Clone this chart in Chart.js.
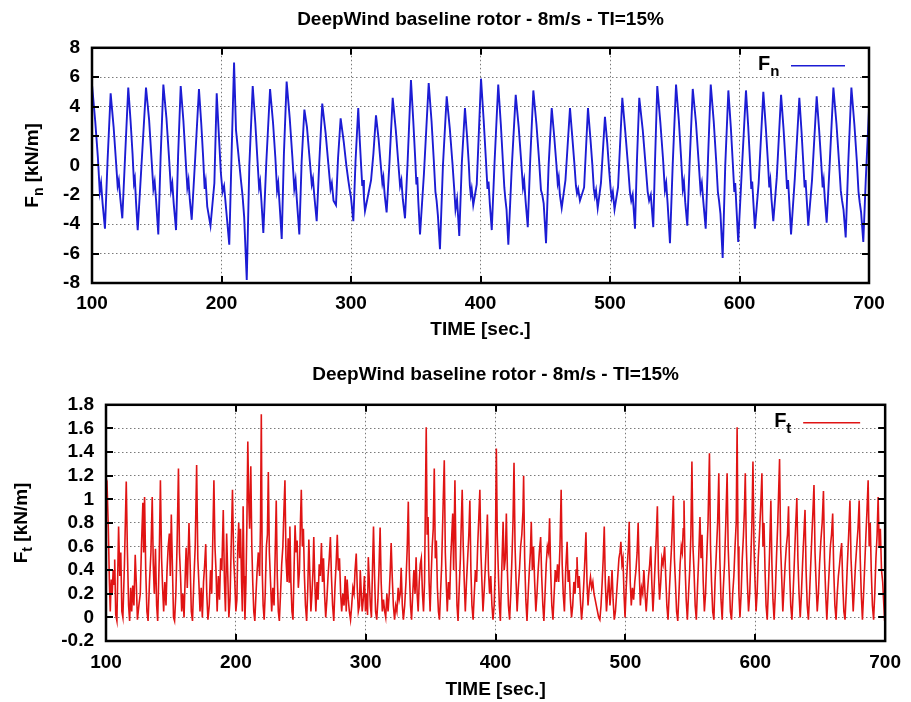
<!DOCTYPE html>
<html>
<head>
<meta charset="utf-8">
<title>DeepWind baseline rotor</title>
<script src="https://cdn.jsdelivr.net/npm/chart.js@4.4.1/dist/chart.umd.min.js"></script>
<style>
    html, body { margin: 0; padding: 0; background: #fff; }
    canvas { display: block; }
</style>
</head>
<body>
<canvas id="fnChart" width="911" height="351"></canvas>
<canvas id="ftChart" width="911" height="351"></canvas>
<script>
(function () {
    "use strict";

    const chartTitle = "DeepWind baseline rotor - 8m/s - TI=15%";
    const timeTicks = [100, 200, 300, 400, 500, 600, 700];
    const fnTicks = [-8, -6, -4, -2, 0, 2, 4, 6, 8];
    const ftTicks = [-0.2, 0, 0.2, 0.4, 0.6, 0.8, 1, 1.2, 1.4, 1.6, 1.8];

    // Fn [kN/m] vs time: [time, value]
    const fnPoints = [
        [100.0, 5.5], [102.5, 3.0], [104.5, 0.6], [106.0, -1.8], [107.0, -1.2], [108.2, -2.6], [110.0, -4.3], [112.0, 0.3],
        [114.4, 4.9], [116.7, 2.6], [118.5, 0.3], [119.8, -1.4], [120.7, -1.0], [121.8, -2.2], [123.4, -3.6], [125.5, 0.5],
        [128.0, 5.3], [129.8, 3.0], [131.3, 0.8], [132.4, -1.2], [133.1, -0.9], [134.0, -2.5], [135.3, -4.4], [138.2, 0.0],
        [141.7, 5.3], [144.1, 3.1], [146.0, 0.4], [147.4, -1.6], [148.4, -1.1], [149.5, -2.4], [151.2, -4.7], [153.0, 0.6],
        [155.1, 5.5], [157.5, 3.2], [159.5, 0.5], [161.0, -1.7], [162.0, -1.2], [163.1, -2.6], [164.9, -4.4], [166.5, 0.7],
        [168.5, 5.4], [170.6, 3.0], [172.3, 0.4], [173.6, -1.5], [174.5, -1.0], [175.5, -2.3], [177.0, -3.7], [179.5, 0.2],
        [182.6, 5.2], [184.4, 2.8], [185.8, 0.6], [187.0, -1.6], [187.8, -1.1], [189.0, -2.8], [191.5, -4.1], [194.5, -1.2],
        [196.3, 4.9], [198.0, 2.0], [199.5, -0.5], [200.8, -1.8], [202.0, -1.4], [203.6, -3.0], [206.0, -5.4], [207.8, 0.8],
        [209.7, 7.0], [211.2, 2.4], [213.0, 0.8], [215.0, -1.0], [216.2, -2.0], [217.5, -3.5], [219.5, -7.8], [221.5, 0.0],
        [224.1, 5.4], [226.1, 2.9], [227.8, 0.3], [229.0, -1.5], [229.8, -1.1], [230.8, -2.4], [232.3, -4.6], [234.6, 0.2],
        [237.5, 5.2], [239.8, 2.9], [241.6, 0.5], [242.9, -1.7], [243.8, -1.2], [244.9, -2.7], [246.5, -5.0], [248.2, 0.8],
        [250.3, 5.7], [252.7, 3.2], [254.7, 0.6], [256.2, -1.6], [257.2, -1.0], [258.3, -2.5], [260.1, -4.7], [261.9, 0.3],
        [264.0, 3.8], [266.0, 2.6], [268.0, 0.5], [269.7, -1.3], [270.6, -0.9], [271.8, -2.2], [273.5, -3.8], [275.5, 0.2],
        [277.8, 4.2], [280.4, 2.2], [282.6, 0.0], [284.2, -1.6], [285.2, -1.2], [286.5, -2.4], [288.4, -2.7], [290.0, 0.5],
        [292.0, 3.2], [294.4, 1.6], [296.4, 0.0], [297.9, -1.0], [298.9, -1.6], [300.0, -2.2], [301.8, -3.8], [303.5, 0.3],
        [305.6, 3.9], [306.6, 2.0], [307.8, 0.0], [308.7, -1.4], [309.3, -1.0], [310.0, -2.2], [310.8, -3.1], [315.5, -1.0], [317.3, 0.8],
        [319.3, 3.4], [321.3, 1.8], [323.0, 0.0], [324.2, -1.2], [325.0, -0.8], [326.0, -2.0], [327.5, -3.2], [329.6, 0.0],
        [332.2, 4.6], [334.6, 2.4], [336.5, 0.2], [337.9, -1.4], [338.9, -1.0], [340.0, -2.3], [341.7, -3.6], [343.8, 0.4],
        [346.3, 5.8], [348.1, 3.0], [349.5, 0.6], [350.5, -1.3], [351.2, -0.8], [352.0, -2.5], [353.3, -4.7], [356.3, -0.6],
        [360.0, 5.6], [362.2, 3.0], [363.9, 0.4], [365.2, -1.8], [366.1, -2.4], [367.1, -3.4], [368.7, -5.7], [371.0, 0.0],
        [373.9, 4.7], [376.3, 2.5], [378.3, 0.2], [379.7, -1.6], [380.7, -3.0], [381.9, -2.3], [383.6, -4.8], [385.6, 0.2],
        [388.0, 3.9], [389.6, 2.0], [390.9, 0.2], [391.8, -1.4], [392.5, -2.0], [393.2, -1.6], [394.4, -2.7], [397.1, -1.3],
        [400.4, 5.9], [402.5, 3.0], [404.1, 0.5], [405.4, -1.6], [406.2, -1.1], [407.2, -2.6], [408.7, -4.4], [410.9, 0.3],
        [413.7, 5.5], [415.7, 2.8], [417.2, 0.4], [418.4, -1.5], [419.2, -2.3], [420.1, -3.0], [421.5, -5.4], [424.1, -0.2],
        [427.2, 4.8], [429.5, 2.6], [431.4, 0.3], [432.8, -1.5], [433.7, -1.0], [434.8, -2.4], [436.5, -4.2], [438.4, 0.4],
        [440.8, 5.1], [443.2, 2.8], [445.2, 0.4], [446.7, -1.7], [447.7, -2.0], [448.8, -2.6], [450.6, -5.3], [452.6, 0.0],
        [455.0, 3.9], [456.9, 2.0], [458.5, 0.2], [459.6, -1.2], [460.4, -0.8], [461.3, -2.0], [462.7, -2.9], [465.6, -1.0],
        [469.1, 3.9], [471.0, 1.8], [472.6, 0.0], [473.7, -1.4], [474.5, -1.9], [475.4, -1.6], [476.8, -2.4], [480.0, -1.5],
        [483.0, 3.9], [484.9, 1.8], [486.4, 0.0], [487.5, -1.6], [488.3, -2.1], [489.2, -1.7], [490.5, -2.9], [493.0, -1.2],
        [496.1, 3.3], [497.9, 1.5], [499.4, -0.4], [500.5, -1.6], [501.3, -2.2], [502.2, -1.8], [503.5, -3.0], [506.2, -1.5],
        [509.5, 4.6], [511.9, 2.2], [513.9, 0.0], [515.4, -1.8], [516.4, -2.4], [517.5, -2.0], [519.3, -4.3], [520.8, 0.3],
        [522.6, 4.6], [525.3, 2.4], [527.5, 0.0], [529.1, -1.8], [530.2, -2.4], [531.5, -2.0], [533.4, -4.2], [534.8, 0.4],
        [536.5, 5.4], [538.9, 2.9], [540.9, 0.5], [542.4, -1.7], [543.4, -1.2], [544.5, -2.6], [546.3, -5.3], [548.4, 0.0],
        [551.0, 5.5], [553.2, 3.0], [554.9, 0.5], [556.2, -1.6], [557.1, -1.1], [558.1, -2.5], [559.7, -4.1], [561.6, 0.4],
        [563.9, 5.2], [566.4, 2.9], [568.4, 0.3], [569.9, -1.7], [570.9, -1.2], [572.1, -2.5], [573.9, -4.3], [575.7, 0.5],
        [577.8, 5.5], [580.1, 3.0], [582.0, 0.3], [583.3, -1.8], [584.2, -2.4], [585.3, -3.3], [587.0, -6.3], [589.0, 0.0],
        [591.4, 5.1], [593.3, 2.6], [594.8, 0.2], [596.0, -1.8], [596.7, -1.2], [597.6, -2.8], [599.0, -5.2], [601.7, -0.5],
        [605.0, 5.1], [606.7, 2.7], [608.1, 0.3], [609.1, -1.6], [609.8, -1.1], [610.7, -2.5], [611.9, -4.3], [614.8, -1.2],
        [618.4, 5.0], [620.3, 2.6], [621.9, 0.3], [623.0, -1.5], [623.8, -1.0], [624.7, -2.3], [626.1, -3.8], [628.8, -0.8],
        [632.1, 4.8], [634.0, 2.5], [635.6, 0.2], [636.7, -1.6], [637.5, -1.0], [638.4, -2.4], [639.8, -4.7], [642.7, -0.9],
        [646.2, 4.6], [647.9, 2.3], [649.3, 0.1], [650.3, -1.5], [651.0, -1.0], [651.9, -2.3], [653.1, -4.1], [656.0, -1.0],
        [659.6, 4.7], [661.5, 2.4], [663.1, 0.2], [664.2, -1.5], [665.0, -1.0], [665.9, -2.3], [667.3, -3.9], [669.6, 0.0],
        [672.5, 5.3], [674.9, 2.8], [676.8, 0.3], [678.2, -1.7], [679.2, -2.4], [680.3, -3.0], [682.0, -4.9], [684.0, 0.2],
        [686.4, 5.3], [688.7, 2.8], [690.6, 0.3], [691.9, -1.8], [692.8, -2.5], [693.9, -3.2], [695.6, -5.2], [697.5, -1.0], [700.0, 3.8],
    ];

    // Ft [kN/m] vs time: [time, value]
    const ftPoints = [
        [100.0, 1.10], [100.8, 1.13], [101.8, 0.75], [102.6, 0.30], [103.3, 0.05], [104.0, 0.32], [104.8, 0.20], [105.5, 0.40], [106.3, 0.28], [106.7, 0.49],
        [107.5, 0.02], [108.4, -0.03], [109.7, 0.77], [110.6, 0.35], [111.4, 0.55], [112.2, 0.05], [113.0, 0.00], [114.2, 0.45], [115.6, 1.15], [116.5, 0.55],
        [117.4, 0.10], [118.2, -0.03], [119.0, 0.25], [119.8, 0.05], [120.6, 0.27], [121.5, 0.10], [122.5, 0.53], [123.3, 0.30], [124.2, -0.02], [125.3, 0.10],
        [126.4, 0.20], [127.3, 0.60], [128.4, 0.97], [129.0, 0.55], [129.7, 1.02], [130.6, 0.40], [131.5, 0.05], [132.4, -0.03], [133.5, 0.30], [134.6, 0.55],
        [135.6, 1.02], [136.4, 0.45], [137.2, 0.20], [138.1, 0.58], [139.0, 0.10], [139.8, -0.03], [141.0, 0.50], [141.9, 1.16], [142.8, 0.50], [143.6, 0.25],
        [144.4, 0.05], [145.3, 0.30], [146.2, 0.10], [147.0, 0.40], [147.9, 0.60], [148.8, 0.71], [149.5, 0.35], [150.3, 0.87], [151.2, 0.40], [152.0, 0.00],
        [152.8, -0.03], [153.8, 0.20], [154.8, 0.65], [155.8, 1.26], [156.6, 0.55], [157.4, 0.35], [158.3, 0.05], [159.2, 0.20], [160.1, 0.00], [161.0, 0.35],
        [161.7, 0.59], [162.6, 0.25], [163.9, 0.80], [164.8, 0.45], [165.7, 0.05], [166.6, -0.03], [167.6, 0.30], [168.7, 0.60], [169.8, 1.29], [170.7, 0.50],
        [171.5, 0.30], [172.4, 0.05], [173.3, 0.25], [174.2, 0.00], [175.1, 0.30], [176.0, 0.45], [176.8, 0.62], [177.6, 0.20], [178.5, -0.02], [179.5, 0.10],
        [180.5, 0.40], [181.4, 0.20], [182.3, 0.70], [183.1, 1.16], [183.9, 0.60], [184.7, 0.40], [185.6, 0.05], [186.5, 0.35], [187.4, 0.15], [188.3, 0.50],
        [189.2, 0.40], [190.3, 0.91], [191.2, 0.30], [192.0, 0.05], [192.9, 0.71], [193.8, 0.35], [194.6, 0.00], [195.5, 0.15], [196.4, 0.60], [197.4, 1.08],
        [198.3, 0.50], [199.2, 0.30], [200.0, 0.05], [200.8, 0.15], [201.5, 0.60], [202.2, 0.80], [202.9, 0.50], [203.6, 0.75], [204.4, 0.30], [205.0, 0.05],
        [205.6, 0.94], [206.3, 0.35], [207.0, -0.02], [207.8, 0.30], [208.5, 0.80], [209.2, 1.49], [209.9, 1.00], [210.6, 0.75], [211.5, 1.28], [212.3, 0.60],
        [213.0, 0.30], [213.8, 0.05], [214.6, -0.03], [215.5, 0.20], [216.4, 0.40], [217.3, 0.55], [218.3, 0.35], [219.0, 0.80], [219.6, 1.72], [220.3, 0.40],
        [221.0, 0.10], [221.8, -0.02], [222.6, 0.20], [223.5, 0.60], [224.3, 0.70], [225.0, 1.23], [225.8, 0.55], [226.7, 0.30], [227.6, 0.05], [228.5, 0.25],
        [229.4, 0.10], [230.3, 0.55], [231.1, 0.99], [231.9, 0.35], [232.7, 0.05], [233.5, -0.03], [234.4, 0.20], [235.3, 0.45], [236.2, 0.60], [237.0, 0.90],
        [237.8, 1.16], [238.6, 0.50], [239.5, 0.30], [240.3, 0.67], [241.0, 0.30], [241.6, 0.77], [242.4, 0.30], [243.2, 0.05], [244.0, -0.02], [244.8, 0.40],
        [245.6, 0.78], [246.4, 0.55], [247.2, 0.65], [248.1, 0.25], [249.0, 0.40], [249.7, 0.80], [250.4, 1.08], [251.2, 0.60], [252.0, 0.75], [252.8, 0.35],
        [253.6, 0.10], [254.5, -0.03], [255.4, 0.25], [256.2, 0.66], [257.0, 0.35], [257.8, 0.05], [258.6, 0.20], [259.4, 0.40], [260.0, 0.68], [260.8, 0.30],
        [261.6, 0.05], [262.5, 0.30], [263.3, 0.15], [264.2, 0.45], [265.0, 0.35], [265.9, 0.63], [266.7, 0.30], [267.5, 0.50], [268.3, 0.20], [269.2, 0.00],
        [270.1, 0.15], [271.0, 0.35], [271.9, 0.50], [272.8, 0.68], [273.6, 0.35], [274.5, 0.10], [275.4, -0.03], [276.3, 0.25], [277.2, 0.45], [278.1, 0.70],
        [278.9, 0.40], [279.8, 0.50], [280.7, 0.20], [281.5, 0.05], [282.4, 0.20], [283.3, 0.10], [284.2, 0.35], [285.0, 0.05], [285.7, 0.32], [286.6, 0.15],
        [287.4, 0.05], [288.3, -0.02], [289.2, 0.10], [290.1, 0.25], [291.0, 0.20], [291.8, 0.40], [292.7, 0.54], [293.5, 0.25], [294.3, 0.05], [295.2, 0.10],
        [295.8, 0.40], [296.6, 0.20], [297.3, 0.05], [298.1, 0.15], [299.0, 0.35], [299.8, 0.05], [300.6, 0.20], [301.4, 0.02], [302.0, 0.51], [302.8, 0.30],
        [303.6, 0.10], [304.4, 0.00], [305.2, 0.40], [306.0, 0.77], [306.8, 0.35], [307.6, 0.05], [308.5, -0.02], [309.4, 0.15], [310.2, 0.40], [311.1, 0.76],
        [311.9, 0.30], [312.8, 0.05], [313.7, 0.15], [314.6, 0.05], [315.4, 0.00], [316.3, 0.20], [317.2, 0.05], [318.1, 0.20], [318.9, 0.40], [319.6, 0.63],
        [320.4, 0.35], [321.3, 0.10], [322.2, -0.02], [323.1, 0.10], [324.0, 0.05], [325.0, 0.25], [325.8, 0.15], [326.6, 0.20], [327.3, 0.42], [328.2, 0.10],
        [329.0, -0.02], [330.0, 0.10], [331.0, 0.30], [332.0, 0.60], [332.8, 0.98], [333.6, 0.40], [334.5, 0.10], [335.3, -0.02], [336.2, 0.20], [337.1, 0.40],
        [338.0, 0.20], [338.8, 0.51], [339.6, 0.20], [340.4, 0.05], [341.2, 0.30], [342.0, 0.45], [342.8, 0.50], [343.7, 0.20], [344.5, 0.05], [345.3, 0.30],
        [345.9, 0.90], [346.6, 1.61], [347.3, 0.70], [348.0, 0.85], [348.8, 0.30], [349.6, 0.05], [350.4, 0.35], [351.2, 0.60], [352.0, 0.75], [352.8, 1.26],
        [353.6, 0.50], [354.4, 0.65], [355.2, 0.25], [356.0, 0.05], [356.8, -0.02], [357.6, 0.20], [358.5, 0.45], [359.6, 0.95], [360.5, 1.33], [361.3, 0.55],
        [362.0, 0.30], [362.8, 0.05], [363.7, 0.30], [364.6, 0.15], [365.5, 0.50], [366.3, 0.70], [367.0, 0.88], [367.7, 0.40], [368.7, 1.16], [369.5, 0.50],
        [370.3, 0.10], [371.1, -0.03], [372.0, 0.25], [372.9, 0.50], [373.6, 0.80], [374.3, 1.08], [375.1, 0.60], [375.9, 0.30], [376.7, 0.05], [377.6, 0.30],
        [378.5, 0.50], [379.4, 0.70], [380.2, 0.99], [381.0, 0.40], [381.8, 0.10], [382.7, -0.02], [383.6, 0.20], [384.5, 0.40], [385.4, 0.30], [386.2, 0.60],
        [387.1, 0.85], [387.9, 1.08], [388.7, 0.55], [389.5, 0.30], [390.3, 0.05], [391.1, 0.20], [392.0, 0.40], [392.8, 0.60], [393.7, 0.87], [394.5, 0.40],
        [395.4, 0.20], [396.3, 0.35], [397.2, 0.10], [398.0, -0.02], [398.9, 0.10], [399.7, 0.40], [400.6, 1.43], [401.3, 0.70], [402.1, 0.40], [402.9, 0.10],
        [403.7, -0.03], [404.5, 0.30], [405.3, 0.60], [405.8, 0.81], [406.6, 0.40], [407.5, 0.50], [408.3, 0.88], [409.1, 0.40], [409.9, 0.10], [410.8, -0.02],
        [411.7, 0.20], [412.6, 0.50], [413.4, 0.80], [414.2, 1.31], [415.0, 0.60], [415.8, 0.30], [416.6, 0.05], [417.5, 0.25], [418.4, 0.40], [419.3, 0.60],
        [420.2, 0.70], [421.1, 0.90], [421.6, 1.20], [422.4, 0.50], [423.3, 0.15], [424.2, -0.03], [425.1, 0.20], [426.0, 0.40], [426.8, 0.55], [427.5, 0.81],
        [428.3, 0.40], [429.2, 0.60], [430.1, 0.30], [431.0, 0.05], [431.9, 0.20], [432.8, 0.40], [433.7, 0.55], [434.7, 0.68], [435.5, 0.35], [436.4, 0.10],
        [437.2, -0.03], [438.1, 0.20], [439.0, 0.45], [439.9, 0.60], [440.8, 0.55], [441.6, 0.84], [442.4, 0.40], [443.3, 0.10], [444.2, -0.02], [445.1, 0.20],
        [446.0, 0.40], [446.9, 0.30], [447.7, 0.45], [448.6, 0.30], [449.6, 0.60], [450.5, 1.08], [451.3, 0.45], [452.1, 0.20], [453.0, 0.05], [454.0, 0.40],
        [455.1, 0.64], [455.9, 0.30], [456.7, 0.40], [457.6, 0.15], [458.5, 0.00], [459.4, 0.10], [460.3, 0.30], [461.2, 0.20], [462.0, 0.40], [462.7, 0.51],
        [463.5, 0.25], [464.4, 0.35], [465.3, 0.15], [466.2, -0.02], [467.1, 0.10], [468.0, 0.30], [468.8, 0.50], [469.6, 0.72], [470.4, 0.30], [471.2, 0.10],
        [472.1, 0.25], [473.1, 0.34], [474.0, 0.25], [474.9, 0.30], [475.8, 0.20], [476.7, 0.15], [477.6, 0.10], [478.5, 0.05], [479.4, 0.00], [480.3, -0.02],
        [481.2, 0.10], [482.1, 0.30], [482.9, 0.50], [483.7, 0.77], [484.5, 0.30], [485.4, 0.05], [486.3, 0.20], [487.2, 0.35], [488.1, 0.10], [489.0, 0.25],
        [489.7, 0.40], [490.5, 0.15], [491.4, -0.02], [492.3, 0.05], [493.2, 0.20], [494.1, 0.35], [495.0, 0.50], [495.8, 0.55], [496.5, 0.64], [497.3, 0.45],
        [498.1, 0.50], [498.9, 0.20], [499.7, 0.00], [500.6, 0.25], [501.5, 0.45], [502.3, 0.60], [502.9, 0.81], [503.7, 0.30], [504.5, 0.10], [505.4, 0.25],
        [506.3, 0.15], [507.2, 0.30], [508.1, 0.40], [509.0, 0.55], [509.8, 0.80], [510.6, 0.40], [511.5, 0.10], [512.4, 0.25], [513.3, 0.20], [514.2, 0.40],
        [515.1, 0.20], [516.0, 0.05], [516.9, 0.20], [517.8, 0.35], [518.7, 0.45], [519.5, 0.60], [520.3, 0.30], [521.2, 0.05], [522.1, 0.25], [523.0, 0.50],
        [523.8, 0.70], [524.6, 0.94], [525.4, 0.40], [526.3, 0.15], [527.2, 0.30], [528.1, 0.50], [529.0, 0.45], [530.2, 0.60], [531.0, 0.35], [531.9, 0.10],
        [532.8, -0.02], [533.7, 0.20], [534.6, 0.40], [535.5, 0.60], [536.2, 0.80], [536.9, 1.03], [537.7, 0.50], [538.5, 0.30], [539.4, 0.05], [540.3, -0.03],
        [541.2, 0.20], [542.1, 0.45], [543.0, 0.60], [543.8, 0.55], [544.5, 0.75], [545.1, 0.99], [545.9, 0.45], [546.8, 0.15], [547.7, -0.02], [548.6, 0.20],
        [549.5, 0.40], [550.4, 0.70], [551.2, 1.32], [552.0, 0.60], [552.8, 0.40], [553.7, 0.10], [554.6, -0.02], [555.5, 0.25], [556.4, 0.50], [557.4, 0.85],
        [558.2, 0.50], [559.0, 0.70], [559.9, 0.30], [560.8, 0.05], [561.7, 0.20], [562.6, 0.50], [563.6, 0.80], [564.7, 1.39], [565.5, 0.60], [566.3, 0.30],
        [567.2, 0.05], [568.1, -0.02], [569.0, 0.30], [570.0, 0.55], [571.0, 0.80], [571.9, 1.22], [572.7, 0.50], [573.6, 0.15], [574.5, -0.02], [575.4, 0.25],
        [576.3, 0.45], [577.3, 0.80], [578.3, 1.22], [579.1, 0.60], [579.9, 0.35], [580.8, 0.05], [581.7, -0.02], [582.6, 0.20], [583.5, 0.35], [584.4, 0.60],
        [585.3, 0.80], [586.0, 1.61], [586.7, 0.60], [587.4, 0.20], [588.2, 0.00], [589.1, 0.20], [590.0, 0.50], [590.9, 0.70], [591.6, 0.90], [592.3, 1.22],
        [593.1, 0.60], [593.9, 0.30], [594.8, 0.05], [595.7, 0.20], [596.6, 0.50], [597.4, 0.80], [598.2, 1.32], [599.0, 0.60], [599.8, 0.30], [600.6, 0.05],
        [601.4, 0.20], [602.3, 0.50], [603.2, 0.70], [604.2, 0.95], [605.1, 1.22], [605.9, 0.60], [606.7, 0.80], [607.5, 0.40], [608.3, 0.10], [609.2, -0.02],
        [610.1, 0.25], [611.0, 0.55], [612.0, 0.99], [612.8, 0.45], [613.6, 0.15], [614.5, -0.02], [615.4, 0.20], [616.3, 0.50], [617.3, 0.80], [618.7, 1.34],
        [619.5, 0.60], [620.3, 0.35], [621.2, 0.05], [622.1, 0.25], [623.0, 0.45], [623.9, 0.60], [624.8, 0.70], [625.6, 0.94], [626.4, 0.40], [627.3, 0.10],
        [628.2, -0.02], [629.1, 0.20], [630.0, 0.45], [631.0, 0.75], [632.0, 1.01], [632.8, 0.50], [633.7, 0.20], [634.6, 0.00], [635.5, 0.20], [636.4, 0.45],
        [637.4, 0.70], [638.3, 0.91], [639.1, 0.40], [640.0, 0.10], [640.9, -0.02], [641.8, 0.20], [642.7, 0.45], [643.6, 0.70], [644.4, 0.90], [645.2, 1.12],
        [646.0, 0.55], [646.8, 0.30], [647.7, 0.05], [648.6, 0.20], [649.5, 0.45], [650.5, 0.65], [651.5, 0.80], [652.5, 1.07], [653.3, 0.50], [654.2, 0.20],
        [655.1, -0.02], [656.0, 0.20], [656.9, 0.40], [657.8, 0.60], [658.7, 0.70], [659.6, 0.88], [660.4, 0.40], [661.3, 0.10], [662.2, -0.02], [663.1, 0.20],
        [664.0, 0.35], [664.9, 0.45], [665.7, 0.55], [666.5, 0.63], [667.3, 0.30], [668.2, 0.05], [669.1, -0.02], [670.0, 0.20], [670.9, 0.45], [671.9, 0.70],
        [672.9, 0.99], [673.7, 0.50], [674.5, 0.30], [675.4, 0.05], [676.3, 0.25], [677.2, 0.45], [678.1, 0.60], [679.1, 0.75], [680.0, 0.99], [680.8, 0.50],
        [681.6, 0.20], [682.5, -0.02], [683.4, 0.20], [684.3, 0.45], [685.2, 0.70], [686.0, 0.90], [686.9, 1.16], [687.7, 0.60], [688.5, 0.80], [689.3, 0.40],
        [690.2, 0.10], [691.1, -0.02], [692.0, 0.20], [692.9, 0.50], [693.8, 0.70], [694.6, 1.02], [695.4, 0.60], [696.3, 0.75], [697.2, 0.40], [698.1, 0.30],
        [699.0, 0.10], [699.6, -0.03],
    ];

    const FONT = "'Liberation Sans', Arial, Helvetica, sans-serif";

    // frame, inside tick marks, gnuplot-style key and subscripted y label
    const gnuplotFrame = {
        id: "gnuplotFrame",
        afterDatasetsDraw(chart, args, opts) {
            const { ctx, chartArea: a, scales } = chart;
            const tick = 7;
            ctx.save();
            ctx.strokeStyle = "#000";
            ctx.lineWidth = 2;
            ctx.beginPath();
            scales.x.ticks.forEach((t) => {
                const px = Math.round(scales.x.getPixelForValue(t.value));
                ctx.moveTo(px, a.bottom);
                ctx.lineTo(px, a.bottom - tick);
                ctx.moveTo(px, a.top);
                ctx.lineTo(px, a.top + tick);
            });
            scales.y.ticks.forEach((t) => {
                const py = Math.round(scales.y.getPixelForValue(t.value));
                ctx.moveTo(a.left, py);
                ctx.lineTo(a.left + tick, py);
                ctx.moveTo(a.right, py);
                ctx.lineTo(a.right - tick, py);
            });
            ctx.stroke();
            ctx.lineWidth = 2.5;
            ctx.strokeRect(a.left, a.top, a.right - a.left, a.bottom - a.top);

            // key
            const ky = a.top + 18;
            ctx.fillStyle = "#000";
            ctx.textBaseline = "middle";
            ctx.textAlign = "left";
            ctx.font = "bold 20px " + FONT;
            const kx = a.right - 111;
            ctx.fillText("F", kx, ky - 1);
            const fw = ctx.measureText("F").width;
            ctx.font = "bold 15px " + FONT;
            ctx.fillText(opts.sub, kx + fw, ky + 6);
            ctx.strokeStyle = opts.color;
            ctx.lineWidth = 1.5;
            ctx.beginPath();
            ctx.moveTo(a.right - opts.keyStart, ky);
            ctx.lineTo(a.right - opts.keyEnd, ky);
            ctx.stroke();

            // y axis title with subscript
            ctx.translate(opts.labelX, (a.top + a.bottom) / 2);
            ctx.rotate(-Math.PI / 2);
            ctx.font = "bold 19px " + FONT;
            const w1 = ctx.measureText("F").width;
            const w3 = ctx.measureText(" [kN/m]").width;
            ctx.font = "bold 14px " + FONT;
            const w2 = ctx.measureText(opts.sub).width;
            const x = -(w1 + w2 + w3) / 2;
            ctx.font = "bold 19px " + FONT;
            ctx.fillText("F", x, 0);
            ctx.font = "bold 14px " + FONT;
            ctx.fillText(opts.sub, x + w1, 6);
            ctx.font = "bold 19px " + FONT;
            ctx.fillText(" [kN/m]", x + w1 + w2, 0);
            ctx.restore();
        },
    };

    const tickFont = { family: FONT, size: 19, weight: "bold" };

    const makeChart = (el, points, color, width, yTicks, geo) => {
        return new Chart(el.getContext("2d"), {
            type: "line",
            data: {
                datasets: [
                    {
                        data: points.map(([x, y]) => ({ x, y })),
                        borderColor: color,
                        borderWidth: width,
                        pointRadius: 0,
                        tension: 0,
                        fill: false,
                    },
                ],
            },
            options: {
                responsive: false,
                animation: false,
                events: [],
                layout: { padding: geo.padding },
                plugins: {
                    legend: { display: false },
                    tooltip: { enabled: false },
                    title: {
                        display: true,
                        text: chartTitle,
                        fullSize: false,
                        color: "#000",
                        font: tickFont,
                        padding: geo.titlePadding,
                    },
                    gnuplotFrame: geo.frame,
                },
                scales: {
                    x: {
                        type: "linear",
                        min: timeTicks[0],
                        max: timeTicks[timeTicks.length - 1],
                        afterBuildTicks: (s) => {
                            s.ticks = timeTicks.map((v) => ({ value: v }));
                        },
                        afterFit: (s) => {
                            s.height = geo.xHeight;
                        },
                        ticks: {
                            color: "#000",
                            padding: geo.xTickPad,
                            maxRotation: 0,
                            autoSkip: false,
                            font: tickFont,
                        },
                        grid: {
                            color: "#7a7a7a",
                            lineWidth: 1,
                            drawTicks: false,
                        },
                        border: { display: false, dash: [1.5, 2.5] },
                        title: {
                            display: true,
                            text: "TIME [sec.]",
                            color: "#000",
                            font: tickFont,
                            padding: { top: 0, bottom: geo.xTitlePad },
                        },
                    },
                    y: {
                        min: yTicks[0],
                        max: yTicks[yTicks.length - 1],
                        afterBuildTicks: (s) => {
                            s.ticks = yTicks.map((v) => ({ value: v }));
                        },
                        afterFit: (s) => {
                            s.width = geo.yWidth;
                        },
                        ticks: {
                            color: "#000",
                            padding: 12,
                            autoSkip: false,
                            font: tickFont,
                            callback: (v) => String(Math.round(v * 10) / 10),
                        },
                        grid: {
                            color: "#7a7a7a",
                            lineWidth: 1,
                            drawTicks: false,
                        },
                        border: { display: false, dash: [1.5, 2.5] },
                    },
                },
            },
            plugins: [gnuplotFrame],
        });
    };

    makeChart(document.getElementById("fnChart"), fnPoints, "#1c1cd4", 1.9, fnTicks, {
        padding: { left: 12, right: 42, top: 0, bottom: 0 },
        titlePadding: { top: 8, bottom: 17 },
        yWidth: 80,
        xHeight: 68,
        xTickPad: 9,
        xTitlePad: 10,
        frame: { sub: "n", color: "#1c1cd4", labelX: 33, keyStart: 78, keyEnd: 24 },
    });

    makeChart(document.getElementById("ftChart"), ftPoints, "#e01414", 1.6, ftTicks, {
        padding: { left: 16, right: 22, top: 0, bottom: 0 },
        titlePadding: { top: 12, bottom: 19 },
        yWidth: 90,
        xHeight: 61,
        xTickPad: 10,
        xTitlePad: 1,
        frame: { sub: "t", color: "#e01414", labelX: 22, keyStart: 82, keyEnd: 25 },
    });
})();
</script>
</body>
</html>
